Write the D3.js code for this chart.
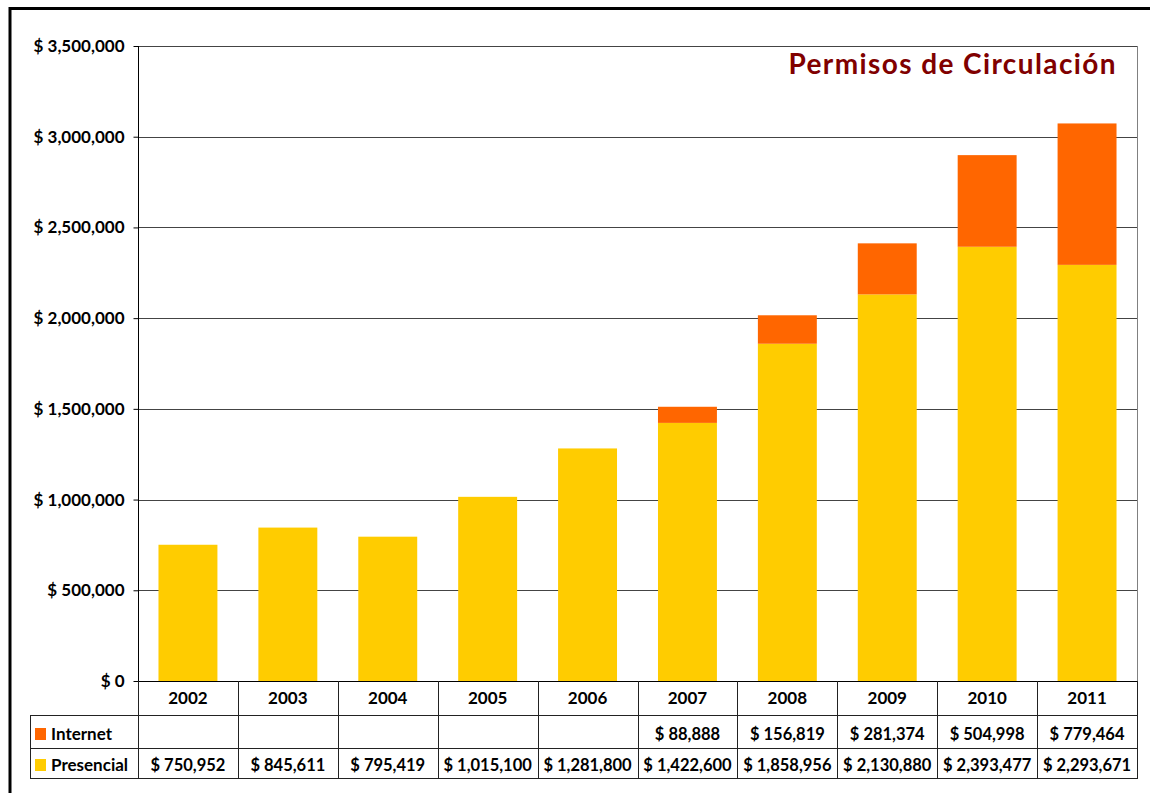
<!DOCTYPE html>
<html>
<head>
<meta charset="utf-8">
<script src="https://cdn.jsdelivr.net/npm/d3@7"></script>
<style>
  body { margin: 0; background: #fff; }
  svg text { font-family: Lato, "Open Sans", sans-serif; font-weight: bold; }
</style>
</head>
<body>
<div id="chart"></div>
<script>
// Datos del gráfico
const years = ["2002", "2003", "2004", "2005", "2006", "2007", "2008", "2009", "2010", "2011"];
const presencial = [750952, 845611, 795419, 1015100, 1281800, 1422600, 1858956, 2130880, 2393477, 2293671];
const internet = [null, null, null, null, null, 88888, 156819, 281374, 504998, 779464];
const yTicks = [0, 500000, 1000000, 1500000, 2000000, 2500000, 3000000, 3500000];
const colors = { Internet: "#FF6600", Presencial: "#FFCC00" };

const W = 1150, H = 793;
const plot = { left: 138, right: 1137, top: 46, bottom: 681 };
const rowY = [681, 715, 748, 778];   // bordes de las filas de la tabla
const tableLeft = 30;

const svg = d3.select("#chart").append("svg")
    .attr("width", W)
    .attr("height", H);

// Escalas
const x = d3.scaleBand()
    .domain(years)
    .range([plot.left, plot.right])
    .paddingInner(0.41)
    .paddingOuter(0.205);

const col = d3.scaleBand()
    .domain(years)
    .range([plot.left, plot.right])
    .padding(0);

const y = d3.scaleLinear()
    .domain([0, 3500000])
    .range([plot.bottom, plot.top]);

const money = v => "$ " + d3.format(",")(v);

// Marco exterior
svg.append("path")
    .attr("d", `M10,${H} L10,8.5 L${W},8.5`)
    .attr("fill", "none")
    .attr("stroke", "#000")
    .attr("stroke-width", 3);

// Líneas de cuadrícula
svg.append("g")
    .selectAll("line")
    .data(yTicks.filter(d => d > 0))
    .join("line")
    .attr("x1", plot.left)
    .attr("x2", plot.right)
    .attr("y1", d => Math.round(y(d)) + 0.5)
    .attr("y2", d => Math.round(y(d)) + 0.5)
    .attr("stroke", "#444")
    .attr("stroke-width", 1);

// Borde derecho del área del gráfico
svg.append("line")
    .attr("x1", plot.right + 0.5).attr("x2", plot.right + 0.5)
    .attr("y1", plot.top).attr("y2", plot.bottom)
    .attr("stroke", "#808080");

// Barras apiladas
const stackData = years.map((yr, i) => ({
    year: yr,
    Presencial: presencial[i],
    Internet: internet[i] || 0
}));
const stack = d3.stack().keys(["Presencial", "Internet"])(stackData);

svg.append("g")
    .selectAll("g")
    .data(stack)
    .join("g")
    .attr("fill", d => colors[d.key])
    .selectAll("rect")
    .data(d => d)
    .join("rect")
    .attr("x", d => x(d.data.year))
    .attr("width", x.bandwidth())
    .attr("y", d => y(d[1]))
    .attr("height", d => y(d[0]) - y(d[1]));

// Eje Y
const yAxis = svg.append("g")
    .attr("transform", `translate(${plot.left + 0.5},0)`)
    .call(d3.axisLeft(y).tickValues(yTicks).tickSize(5).tickPadding(9).tickFormat(money));
yAxis.select(".domain").attr("stroke", "#000").attr("d", `M0,${plot.top}V${plot.bottom}`);
yAxis.selectAll(".tick line").attr("stroke", "#000");
yAxis.selectAll(".tick text")
    .attr("fill", "#000")
    .style("font-size", "17px")
    .style("font-family", "Lato, sans-serif")
    .style("font-weight", "bold");

// Tabla de datos
const tbl = svg.append("g");

// líneas horizontales
tbl.append("line")
    .attr("x1", plot.left).attr("x2", plot.right + 1)
    .attr("y1", rowY[0] + 0.5).attr("y2", rowY[0] + 0.5)
    .attr("stroke", "#000");
[rowY[1], rowY[2], rowY[3]].forEach(yy => {
    tbl.append("line")
        .attr("x1", tableLeft).attr("x2", plot.right + 1)
        .attr("y1", yy + 0.5).attr("y2", yy + 0.5)
        .attr("stroke", "#222");
});

// líneas verticales
const vBounds = years.map(yr => col(yr)).concat([plot.right]);
tbl.selectAll(".vline")
    .data(vBounds)
    .join("line")
    .attr("class", "vline")
    .attr("x1", d => Math.round(d) + 0.5)
    .attr("x2", d => Math.round(d) + 0.5)
    .attr("y1", rowY[0])
    .attr("y2", rowY[3])
    .attr("stroke", "#222");
tbl.append("line")
    .attr("x1", tableLeft + 0.5).attr("x2", tableLeft + 0.5)
    .attr("y1", rowY[1]).attr("y2", rowY[3])
    .attr("stroke", "#222");

// encabezados de años
tbl.selectAll(".yr")
    .data(years)
    .join("text")
    .attr("class", "yr")
    .attr("x", d => col(d) + col.bandwidth() / 2)
    .attr("y", 704)
    .attr("text-anchor", "middle")
    .style("font-size", "17px")
    .text(d => d);

// filas de series
const rows = [
    { name: "Internet", values: internet, base: 740 },
    { name: "Presencial", values: presencial, base: 771 }
];

rows.forEach(r => {
    tbl.append("rect")
        .attr("x", 35).attr("y", r.base - 12)
        .attr("width", 11).attr("height", 12)
        .attr("fill", colors[r.name]);
    tbl.append("text")
        .attr("x", 51).attr("y", r.base)
        .style("font-size", "17px")
        .text(r.name);
    tbl.selectAll(null)
        .data(years.map((yr, i) => ({ yr, v: r.values[i] })).filter(d => d.v != null))
        .join("text")
        .attr("x", d => col(d.yr) + col.bandwidth() / 2)
        .attr("y", r.base)
        .attr("text-anchor", "middle")
        .style("font-size", "16.5px")
        .text(d => money(d.v));
});

// Título
svg.append("text")
    .attr("x", 1117)
    .attr("y", 74)
    .attr("text-anchor", "end")
    .attr("fill", "#800000")
    .style("font-size", "28px")
    .style("letter-spacing", "1.4px")
    .text("Permisos de Circulación");
</script>
</body>
</html>
